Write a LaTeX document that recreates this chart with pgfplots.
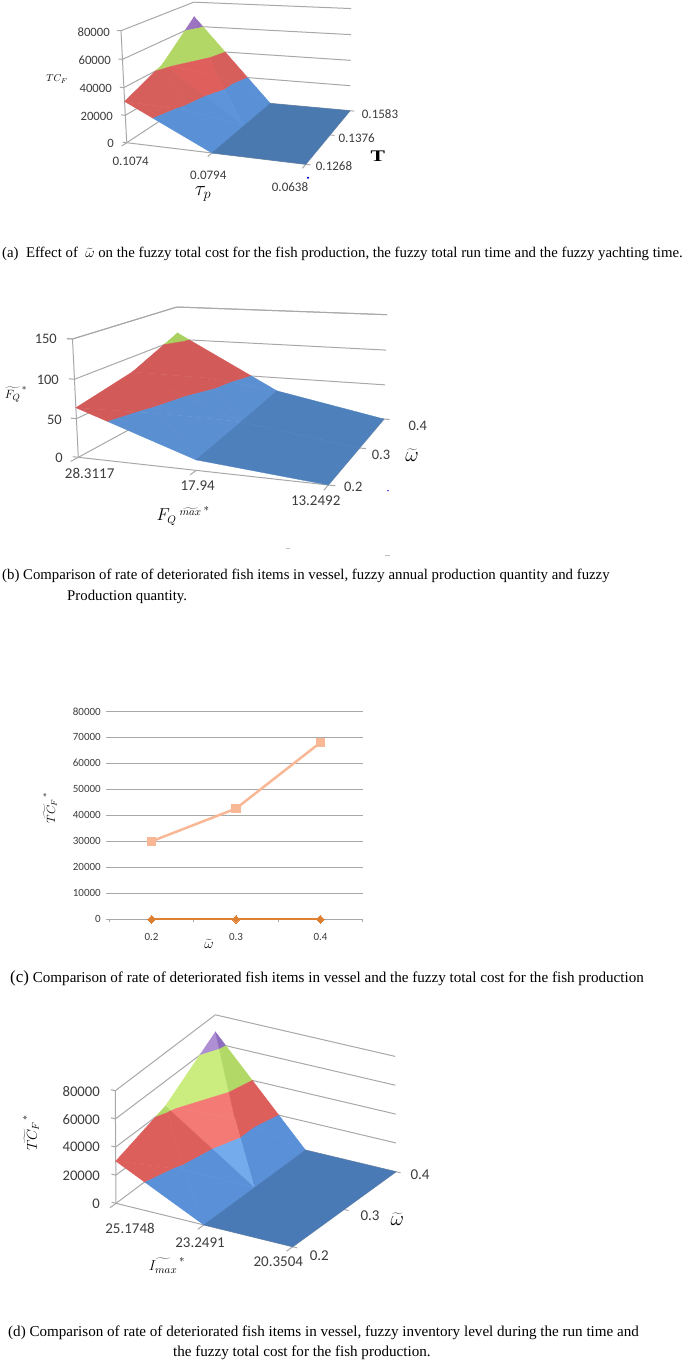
\documentclass[border=0pt]{standalone}
\usepackage{pgfplots}
\pgfplotsset{compat=1.18}
\usepackage{fontspec}
\setmainfont{Liberation Serif}
\setsansfont{Carlito}
\definecolor{gridc}{HTML}{A8A8A8}
\definecolor{lab}{HTML}{3C3C3C}
\newcommand\px[1]{\fontsize{#1pt}{#1pt}\selectfont}
\newcommand\projx{(\pXa+\pXu*\thisrow{i}/2+\pXv*\thisrow{j}/2+\pXw*\thisrow{z}/\pZm)/(1+\pDu*\thisrow{i}/2+\pDv*\thisrow{j}/2+\pDw*\thisrow{z}/\pZm)}
\newcommand\projy{\pYo+(\pYa+\pYu*\thisrow{i}/2+\pYv*\thisrow{j}/2+\pYw*\thisrow{z}/\pZm)/(1+\pDu*\thisrow{i}/2+\pDv*\thisrow{j}/2+\pDw*\thisrow{z}/\pZm)}
\newcommand\poly[2]{\addplot[fill=#1,draw=#1,line width=.3pt] table[x expr=\projx,y expr=\projy,row sep=\\]{i j z\\ #2} --cycle;}
\newcommand\lin[1]{\addplot[draw=gridc,line width=1pt] table[x expr=\projx,y expr=\projy,row sep=\\]{i j z\\ #1};}
\newcommand\wall[1]{\lin{0 0 #1\\ 0 2 #1\\ 2 2 #1\\}}
\newcommand\boxlines[4]{%
  \wall{0}\wall{#1}\wall{#2}\wall{#3}\wall{#4}%
  \lin{0 0 0\\ 0 0 #4\\}\lin{0 0 0\\ 2 0 0\\ 2 2 0\\}%
  \lin{-.05 0 0\\ 0 0 0\\}\lin{-.05 0 #1\\ 0 0 #1\\}\lin{-.05 0 #2\\ 0 0 #2\\}\lin{-.05 0 #3\\ 0 0 #3\\}\lin{-.05 0 #4\\ 0 0 #4\\}%
  \lin{0 0 0\\ 0 -.12 0\\}\lin{1 0 0\\ 1 -.12 0\\}\lin{2 0 0\\ 2 -.12 0\\}%
  \lin{2 0 0\\ 2.05 0 0\\}\lin{2 1 0\\ 2.05 1 0\\}\lin{2 2 0\\ 2.05 2 0\\}%
}
\newcommand\surfAD{%
  \poly{pL}{0 1.6863 60000\\ 0 2 68000\\ .0991 1.9009 60000\\}
  \poly{gL}{0 1 42500\\ 0 1.6863 60000\\ .0991 1.9009 60000\\ .3467 1.6533 40000\\ .0840 1.0840 40000\\}
  \poly{rL}{.0840 1.0840 40000\\ .3467 1.6533 40000\\ .5 1.5 27625\\}
  \poly{pM}{0 2 68000\\ .1176 2 60000\\ .0991 1.9009 60000\\}
  \poly{gM}{.0991 1.9009 60000\\ .1176 2 60000\\ .4118 2 40000\\ .3467 1.6533 40000\\}
  \poly{rM}{.3467 1.6533 40000\\ .4118 2 40000\\ .7059 2 20000\\ .6380 1.6380 20000\\ .5 1.5 27625\\}
  \poly{bM}{.6380 1.6380 20000\\ .7059 2 20000\\ 1 2 0\\}
  \poly{rM}{.5 1.5 27625\\ .6380 1.3620 20000\\ .6380 1.6380 20000\\}
  \poly{bM}{1 1 0\\ 1 2 0\\ .6380 1.6380 20000\\ .6380 1.3620 20000\\}
  \poly{gL}{0 1 42500\\ .0588 1 40000\\ .0840 1.0840 40000\\}
  \poly{rL}{.0840 1.0840 40000\\ .0588 1 40000\\ .5294 1 20000\\ .6380 1.3620 20000\\ .5 1.5 27625\\}
  \poly{bL}{.5294 1 20000\\ 1 1 0\\ .6380 1.3620 20000\\}
  \poly{gM}{0 1 42500\\ .0588 1 40000\\ .0513 .9487 40000\\}
  \poly{rM}{.0513 .9487 40000\\ .0588 1 40000\\ .5294 1 20000\\ .4615 .5385 20000\\}
  \poly{bM}{.4615 .5385 20000\\ .5294 1 20000\\ 1 1 0\\ .5 .5 18125\\}
  \poly{gM}{0 .8 40000\\ 0 1 42500\\ .0513 .9487 40000\\}
  \poly{rM}{0 0 30000\\ 0 .8 40000\\ .0513 .9487 40000\\ .4615 .5385 20000\\ .4211 .4211 20000\\}
  \poly{bM}{.4211 .4211 20000\\ .4615 .5385 20000\\ .5 .5 18125\\}
  \poly{bM}{1 0 0\\ 1 1 0\\ .5 .5 18125\\}
  \poly{rM}{0 0 30000\\ .3333 0 20000\\ .4211 .4211 20000\\}
  \poly{bM}{.3333 0 20000\\ 1 0 0\\ .5 .5 18125\\ .4211 .4211 20000\\}
  \poly{flat}{1 0 0\\ 2 0 0\\ 2 2 0\\ 1 2 0\\}
}
\pgfplotsset{page/.style={at={(0,0)},anchor=north west,width=685pt,height=1363pt,scale only axis,
  xmin=0,xmax=685,ymin=0,ymax=1363,y dir=reverse,hide axis,clip=false}}
\newcommand\tl[4][13]{\node[text=lab,inner sep=0pt,font=\sffamily\px{#1},anchor=#2] at (axis cs:#3) {#4};}
\newcommand\capt[3]{\node[anchor=west,inner sep=0pt,font=\px{#1}] at (axis cs:#2) {#3};}
\begin{document}
\begin{tikzpicture}
\path[use as bounding box] (0,0) rectangle (685pt,-1363pt);
% ---------- panel (a)
\def\pXa{126.7}\def\pXu{151.15}\def\pXv{108.16}\def\pXw{-9.33}
\def\pYa{142.7}\def\pYu{6.63}\def\pYv{-27.24}\def\pYw{-112.92}
\def\pDu{-0.0911}\def\pDv{0.194}\def\pDw{-0.03}\def\pZm{80000}\def\pYo{0}
\definecolor{bM}{HTML}{5A90D6}\definecolor{bL}{HTML}{5E94DA}
\definecolor{rM}{HTML}{D65E5B}\definecolor{rL}{HTML}{DF5F5C}
\definecolor{gM}{HTML}{B2D766}\definecolor{gL}{HTML}{B2D766}
\definecolor{pM}{HTML}{9670BC}\definecolor{pL}{HTML}{9C74C2}
\definecolor{flat}{HTML}{4A79AF}
\begin{axis}[page]
\boxlines{20000}{40000}{60000}{80000}
\surfAD
\tl[12.7]{east}{110,32}{80000}\tl[12.7]{east}{111,60.5}{60000}\tl[12.7]{east}{112,88.5}{40000}\tl[12.7]{east}{113,116}{20000}\tl[12.7]{east}{114,143.5}{0}
\tl{center}{130.7,161.7}{0.1074}\tl{center}{208.3,175}{0.0794}\tl{center}{290,186.7}{0.0638}
\tl{center}{334,165.7}{0.1268}\tl{center}{356.7,138.3}{0.1376}\tl{center}{380,114}{0.1583}
\node[inner sep=0pt,font=\px{10}] at (axis cs:57,79) {$TC_F$};
\node[inner sep=0pt,font=\px{20}] at (axis cs:203,194) {$\tau_p$};
\node[inner sep=0pt,font=\px{18}\bfseries] at (axis cs:377.7,156.5) {\scalebox{1.2}[.9]{T}};
\addplot[only marks,mark=*,mark size=.8pt,blue!80!black] coordinates {(308,177.7)};
\capt{14.8}{2,254}{(a)\ \ Effect of \ $\widetilde{\omega}$\ on the fuzzy total cost for the fish production, the fuzzy total run time and the fuzzy yachting time.}
\end{axis}
% ---------- panel (b)
\def\pXa{78.3}\def\pXu{214.7}\def\pXv{145.22}\def\pXw{-7.97}
\def\pYa{137.3}\def\pYu{9.96}\def\pYv{-34.28}\def\pYw{-118.87}
\def\pDu{-0.1075}\def\pDv{0.2487}\def\pDw{-0.03}\def\pZm{150}\def\pYo{320}
\definecolor{bM}{HTML}{5A8FD2}\definecolor{rM}{HTML}{D25A58}\definecolor{gM}{HTML}{A9CF5E}
\definecolor{flat}{HTML}{4E80BC}
\begin{axis}[page]
\boxlines{50}{100}{150}{150}
\poly{gM}{0 1.6774 100\\ 0 2 110\\ .1 1.9 100\\}
\poly{rM}{0 1 79\\ 0 1.6774 100\\ .1 1.9 100\\ .5 1.5 60\\}
\poly{gM}{0 2 110\\ .125 2 100\\ .1 1.9 100\\}
\poly{rM}{.1 1.9 100\\ .125 2 100\\ .75 2 50\\ .6667 1.6667 50\\ .5 1.5 60\\}
\poly{bM}{.6667 1.6667 50\\ .75 2 50\\ 1 2 30\\}
\poly{rM}{.5 1.5 60\\ .6282 1.3718 50\\ .6667 1.6667 50\\}
\poly{bM}{1 1 21\\ 1 2 30\\ .6667 1.6667 50\\ .6282 1.3718 50\\}
\poly{rM}{0 1 79\\ .5 1 50\\ .6282 1.3718 50\\ .5 1.5 60\\}
\poly{bM}{.5 1 50\\ 1 1 21\\ .6282 1.3718 50\\}
\poly{rM}{0 1 79\\ .5 1 50\\ .4173 .5827 50\\}
\poly{bM}{.4173 .5827 50\\ .5 1 50\\ 1 1 21\\ .5 .5 44.25\\}
\poly{rM}{0 0 64\\ 0 1 79\\ .4173 .5827 50\\ .3544 .3544 50\\}
\poly{bM}{.3544 .3544 50\\ .4173 .5827 50\\ .5 .5 44.25\\}
\poly{bM}{1 0 13\\ 1 1 21\\ .5 .5 44.25\\}
\poly{rM}{0 0 64\\ .2745 0 50\\ .3544 .3544 50\\}
\poly{bM}{.2745 0 50\\ 1 0 13\\ .5 .5 44.25\\ .3544 .3544 50\\}
\poly{flat}{1 1 21\\ 2 1 0\\ 2 2 0\\ 1 2 30\\}
\poly{flat}{1 0 13\\ 2 0 0\\ 2 1 0\\ 1 1 21\\}
\tl[14.5]{east}{57,339}{150}\tl[14.5]{east}{59,380}{100}\tl[14.5]{east}{62,420}{50}\tl[14.5]{east}{63,458.3}{0}
\tl[15]{center}{89.7,473.3}{28.3117}\tl[15]{center}{197.7,485.7}{17.94}\tl[15]{center}{315.7,501}{13.2492}
\tl[14.5]{center}{353.3,486.7}{0.2}\tl[14.5]{center}{381,455}{0.3}\tl[14.5]{center}{417.7,425.7}{0.4}
\node[inner sep=0pt,font=\px{20}] at (axis cs:412,455) {$\widetilde{\omega}$};
\node[inner sep=0pt,font=\px{13}] at (axis cs:16,394) {$\widetilde{F_Q}^{\,*}$};
\node[inner sep=0pt,font=\px{16}] at (axis cs:183,516) {$F_Q\,\widetilde{{}^{max}}^{\,*}$};
\addplot[only marks,mark=*,mark size=.5pt,blue!60!gray] coordinates {(388,490.7)};
\addplot[draw=lightgray,line width=.6pt] coordinates {(286,548)(290,548)};
\addplot[draw=lightgray,line width=.6pt] coordinates {(385,555)(390,555)};
\capt{14.8}{2,576}{(b) Comparison of rate of deteriorated fish items in vessel, fuzzy annual production quantity and fuzzy}
\capt{14.8}{67,597}{Production quantity.}
\end{axis}
% ---------- panel (d)
\def\pXa{116}\def\pXu{173.22}\def\pXv{97.52}\def\pXw{-0.7}
\def\pYa{183.3}\def\pYu{40.7}\def\pYv{-75.85}\def\pYw{-112.6}
\def\pDu{-0.0119}\def\pDv{-0.0115}\def\pDw{0}\def\pZm{80000}\def\pYo{1020}
\definecolor{bM}{HTML}{5A90D8}\definecolor{bL}{HTML}{74ABEC}
\definecolor{rM}{HTML}{DC5F5C}\definecolor{rL}{HTML}{F47A76}
\definecolor{gM}{HTML}{B2D868}\definecolor{gL}{HTML}{CBEC7E}
\definecolor{pM}{HTML}{8F6DBE}\definecolor{pL}{HTML}{AE8FD4}
\definecolor{flat}{HTML}{4A7AB5}
\begin{axis}[page]
\boxlines{20000}{40000}{60000}{80000}
\surfAD
\tl[14.7]{east}{100,1091.3}{80000}\tl[14.7]{east}{100,1119.3}{60000}\tl[14.7]{east}{100,1147}{40000}\tl[14.7]{east}{100,1175.3}{20000}\tl[14.7]{east}{100,1204}{0}
\tl[15]{center}{130,1228.7}{25.1748}\tl[15]{center}{200,1242.3}{23.2491}\tl[15]{center}{278.3,1261.7}{20.3504}
\tl[15]{center}{319.3,1256}{0.2}\tl[15]{center}{370,1216}{0.3}\tl[15]{center}{420,1175}{0.4}
\node[inner sep=0pt,font=\px{20}] at (axis cs:397.3,1219) {$\widetilde{\omega}$};
\node[inner sep=0pt,font=\px{14},rotate=90] at (axis cs:31,1133) {$\widetilde{TC_F}^{\,*}$};
\node[inner sep=0pt,font=\px{15}] at (axis cs:167,1265) {$\widetilde{I_{max}}^{\,*}$};
\capt{15.1}{8,1333}{(d) Comparison of rate of deteriorated fish items in vessel, fuzzy inventory level during the run time and}
\capt{15.1}{173,1353}{the fuzzy total cost for the fish production.}
\end{axis}
% ---------- panel (c)
\begin{axis}[at={(109.3pt,-919.3pt)},anchor=south west,width=253.4pt,height=208pt,scale only axis,
  xmin=.5,xmax=3.5,ymin=0,ymax=80000,clip=false,
  axis line style={draw=none},
  axis x line*=bottom,axis y line*=left,
  xtick={.5,1.5,2.5,3.5},xticklabels={},
  extra x ticks={1,2,3},extra x tick labels={0.2,0.3,0.4},
  extra x tick style={major tick length=0pt,xticklabel style={yshift=-11pt}},
  ytick={0,10000,...,80000},scaled y ticks=false,
  ymajorgrids,grid style={draw=gridc,line width=1pt},
  tick style={draw=gridc,line width=1pt},major tick length=3pt,
  tick align=outside,
  tick label style={font=\sffamily\px{11},text=lab},
  yticklabel style={xshift=-2pt},
  /pgf/number format/1000 sep={},/pgf/number format/assume math mode=true]
\addplot[draw=gridc,line width=1pt] coordinates {(.5,0)(3.5,0)};
\addplot[color={rgb,255:red,249;green,184;blue,149},line width=2.5pt,mark=square*,mark size=4.2pt,mark options={line width=0pt}] coordinates {(1,30000)(2,42600)(3,68000)};
\addplot[color={rgb,255:red,222;green,128;blue,50},line width=2pt,mark=diamond*,mark size=3.8pt,mark options={line width=0pt,xscale=1.33}] coordinates {(1,0)(2,0)(3,0)};
\end{axis}
\begin{axis}[page]
\node[inner sep=0pt,font=\px{14}] at (axis cs:209,944) {$\widetilde{\omega}$};
\node[inner sep=0pt,font=\px{12},rotate=90] at (axis cs:50,808) {$\widetilde{TC_F}^{\,*}$};
\node[anchor=west,inner sep=0pt] at (axis cs:10,978) {\px{17}(c)\px{15.1} Comparison of rate of deteriorated fish items in vessel and the fuzzy total cost for the fish production};
\end{axis}
\end{tikzpicture}
\end{document}
